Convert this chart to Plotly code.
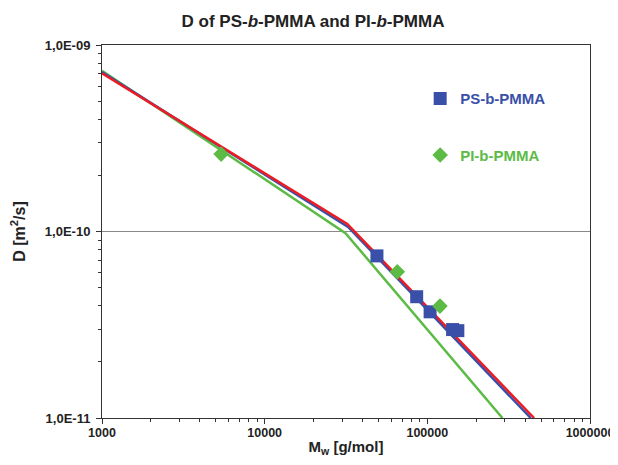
import plotly.graph_objects as go

# ---- data ----
ps_mw = [49000, 86000, 104000, 143000, 154000]
ps_d = [7.4e-11, 4.47e-11, 3.71e-11, 2.98e-11, 2.94e-11]

pi_mw = [5400, 65400, 119600]
pi_d = [2.6e-10, 6.08e-11, 3.98e-11]

red_mw = [1000, 32200, 453000]
red_d = [7.05e-10, 1.097e-10, 1.0e-11]

blue_mw = [1000, 32900, 432000]
blue_d = [7.15e-10, 1.05e-10, 1.0e-11]

green_mw = [1000, 31400, 289500]
green_d = [7.28e-10, 9.8e-11, 1.0e-11]

x_tickvals = [1000, 10000, 100000, 1000000]
x_ticktext = ["1000", "10000", "100000", "1000000"]
y_tickvals = [1e-11, 1e-10, 1e-9]
y_ticktext = ["1,0E-11", "1,0E-10", "1,0E-09"]

BLUE = "#3A50A8"
GREEN = "#5CBB45"
RED = "#EC1C24"
FONT = "Liberation Sans, Arial, sans-serif"
AX = "#333"

minor_x = [m * 10 ** e for e in range(3, 6) for m in range(2, 10)]
minor_y = [m * 10.0 ** e for e in (-11, -10) for m in range(2, 10)]

fig = go.Figure()
# invisible trace that carries the minor-tick overlay axes
fig.add_trace(go.Scatter(x=[x_tickvals[0]], y=[y_tickvals[0]], mode="markers",
                         marker=dict(opacity=0), xaxis="x2", yaxis="y2",
                         showlegend=False, hoverinfo="skip"))
fig.add_trace(go.Scatter(x=green_mw, y=green_d, mode="lines",
                         line=dict(color=GREEN, width=2.5), showlegend=False))
fig.add_trace(go.Scatter(x=blue_mw, y=blue_d, mode="lines",
                         line=dict(color=BLUE, width=2.5), showlegend=False))
fig.add_trace(go.Scatter(x=red_mw, y=red_d, mode="lines",
                         line=dict(color=RED, width=2.5), showlegend=False))
fig.add_trace(go.Scatter(x=ps_mw, y=ps_d, mode="markers",
                         name="<span style='color:%s'>PS-b-PMMA</span>" % BLUE,
                         legendgroup="ps",
                         marker=dict(symbol="square", size=13, color=BLUE)))
fig.add_trace(go.Scatter(x=pi_mw, y=pi_d, mode="markers",
                         name="<span style='color:%s'>PI-b-PMMA</span>" % GREEN,
                         legendgroup="pi",
                         marker=dict(symbol="diamond", size=12, color=GREEN)))

fig.update_layout(
    width=610, height=457,
    margin=dict(l=94, r=28, t=37, b=47),
    paper_bgcolor="white", plot_bgcolor="white",
    title=dict(text="D of PS-<i>b</i>-PMMA and PI-<i>b</i>-PMMA",
               x=0.5, xanchor="center", y=0.972, yanchor="middle",
               font=dict(family=FONT, size=17, color="#222", weight="bold")),
    legend=dict(x=0.652, y=0.9, xanchor="left", yanchor="top",
                bgcolor="rgba(0,0,0,0)", tracegroupgap=34,
                font=dict(family=FONT, size=15, weight="bold")),
    xaxis=dict(type="log", range=[3, 6], automargin=False,
               tickvals=x_tickvals, ticktext=x_ticktext,
               ticks="outside", ticklen=5, tickcolor=AX,
               ticklabelstandoff=-2,
               showline=True, linecolor=AX, linewidth=1, mirror=True,
               showgrid=False, zeroline=False,
               tickfont=dict(family=FONT, size=12.5, color="#222", weight="bold"),
               title=dict(text="M<sub>w</sub> [g/mol]", standoff=2,
                          font=dict(family=FONT, size=15, color="#222", weight="bold"))),
    yaxis=dict(type="log", range=[-11, -9], automargin=False,
               tickvals=y_tickvals, ticktext=y_ticktext,
               ticks="outside", ticklen=5, tickcolor=AX,
               ticklabelstandoff=3,
               showline=True, linecolor=AX, linewidth=1, mirror=True,
               showgrid=True, gridcolor="#888", gridwidth=1, zeroline=False,
               tickfont=dict(family=FONT, size=13, color="#222", weight="bold"),
               title=dict(text="D [m<sup>2</sup>/s]", standoff=18,
                          font=dict(family=FONT, size=16, color="#222", weight="bold"))),
    xaxis2=dict(type="log", range=[3, 6], overlaying="x", side="bottom",
                anchor="y2", automargin=False,
                tickvals=minor_x, showticklabels=False, ticks="outside",
                ticklen=3, tickcolor=AX, showline=False, showgrid=False,
                zeroline=False),
    yaxis2=dict(type="log", range=[-11, -9], overlaying="y", side="left",
                anchor="x2", automargin=False,
                tickvals=minor_y, showticklabels=False, ticks="outside",
                ticklen=3, tickcolor=AX, showline=False, showgrid=False,
                zeroline=False),
)

fig.write_html("out.html")
